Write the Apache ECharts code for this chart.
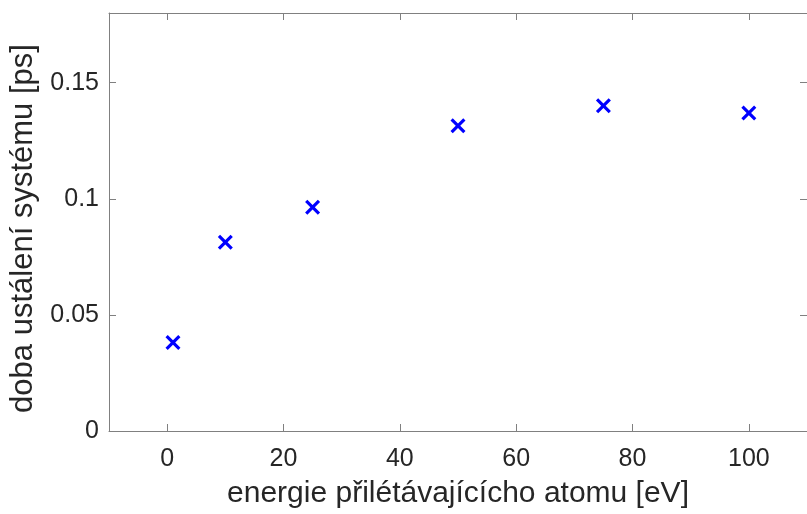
<!DOCTYPE html>
<html>
<head>
<meta charset="utf-8">
<script src="https://cdn.jsdelivr.net/npm/echarts@6/dist/echarts.min.js"></script>
<style>html,body{margin:0;padding:0;background:#fff}#c{width:807px;height:514px}</style>
</head>
<body>
<div id="c"></div>
<script>
const energy = [1, 10, 25, 50, 75, 100];
const settleTime = [0.0381, 0.0813, 0.0963, 0.1315, 0.1401, 0.1369];
const xTitle = 'energie přilétávajícícho atomu [eV]';
const yTitle = 'doba ustálení systému [ps]';

const a = 15;
const crossPath = 'path://M0,' + a + 'L' + a + ',0L50,' + (50 - a) + 'L' + (100 - a) + ',0L100,' + a +
  'L' + (50 + a) + ',50L100,' + (100 - a) + 'L' + (100 - a) + ',100L50,' + (50 + a) +
  'L' + a + ',100L0,' + (100 - a) + 'L' + (50 - a) + ',50Z';

const font = 'Liberation Sans, Arial, Helvetica, sans-serif';
const textColor = '#262626';
const lineColor = '#808080';

const chart = echarts.init(document.getElementById('c'));
const baseX = {
  type: 'value', min: -10, max: 110, splitNumber: 6,
  splitLine: { show: false },
  axisLine: { show: true, onZero: false, lineStyle: { color: lineColor, width: 1 } },
  axisTick: { show: true, inside: true, length: 7, lineStyle: { color: lineColor } }
};
const baseY = {
  type: 'value', min: 0, max: 0.18, interval: 0.05,
  splitLine: { show: false },
  axisLine: { show: true, onZero: false, lineStyle: { color: lineColor, width: 1 } },
  axisTick: { show: true, inside: true, length: 7, lineStyle: { color: lineColor } }
};
chart.setOption({
  animation: false,
  backgroundColor: '#ffffff',
  grid: { left: 109, top: 13, right: -7, bottom: 81, containLabel: false },
  xAxis: [
    Object.assign({}, baseX, {
      position: 'bottom',
      name: xTitle, nameLocation: 'middle', nameGap: 48,
      nameTextStyle: { fontFamily: font, fontSize: 30, color: textColor },
      axisLabel: { show: true, margin: 16, fontFamily: font, fontSize: 25, color: textColor,
        showMinLabel: false, showMaxLabel: false }
    }),
    Object.assign({}, baseX, { position: 'top', axisLabel: { show: false } })
  ],
  yAxis: [
    Object.assign({}, baseY, {
      position: 'left',
      name: yTitle, nameLocation: 'middle', nameGap: 68,
      nameTextStyle: { fontFamily: font, fontSize: 31, color: textColor, padding: [0, 13, 0, 0] },
      axisLabel: { show: true, margin: 10, fontFamily: font, fontSize: 25, color: textColor,
        showMaxLabel: false }
    }),
    Object.assign({}, baseY, { position: 'right', axisLabel: { show: false } })
  ],
  series: [{
    type: 'scatter',
    xAxisIndex: 0, yAxisIndex: 0,
    data: energy.map((x, i) => [x, settleTime[i]]),
    symbol: crossPath,
    symbolSize: 15,
    itemStyle: { color: '#0000ff', opacity: 1 }
  }]
});
</script>
</body>
</html>
